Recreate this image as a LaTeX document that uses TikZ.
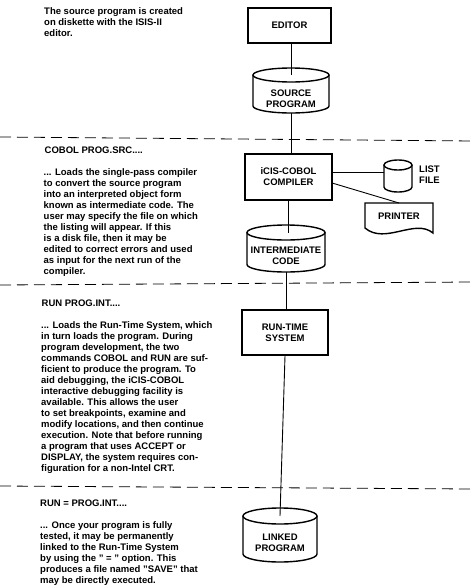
\documentclass[tikz,border=0pt]{standalone}
\usepackage{fontspec}
\setmainfont{Liberation Sans}
\usetikzlibrary{calc}
\newcommand\txtfont{\fontsize{9.5}{11}\selectfont\bfseries}
% #1 node name, #2 half width, #3 top-ellipse centre above node centre,
% #4 side bottom below node centre, #5 ellipse y radius
\newcommand\drawcyl[5]{%
  \coordinate (#1-top) at ($(#1)+(0,#3)$);
  \coordinate (#1-bot) at ($(#1)+(0,-#4-#5)$);
  \draw[cylline] (#1-top) ellipse[x radius=#2, y radius=#5];
  \draw[cylline] ($(#1)+(-#2,#3)$) -- ($(#1)+(-#2,-#4)$)
     arc[start angle=180, end angle=360, x radius=#2, y radius=#5]
     -- ($(#1)+(#2,#3)$);
}
\tikzset{
  box/.style={draw, line width=1.8pt, align=center, inner sep=0pt},
  lbl/.style={align=center, inner sep=0pt},
  txt/.style={align=left, anchor=north west, inner sep=0pt},
  cylline/.style={line width=1.4pt},
  conn/.style={line width=0.9pt},
  divider/.style={line width=0.8pt, dash pattern=on 11pt off 6pt}
}
\begin{document}
\begin{tikzpicture}[x=1pt, y=1pt, every node/.style={font=\txtfont}]
\fill[white] (0,0) rectangle (474,-587);
\useasboundingbox (0,0) rectangle (474,-587);

% dividers
\draw[divider] (0,-137) -- (474,-141);
\draw[divider] (0,-285) -- (474,-282);
\draw[divider] (0,-486) -- (474,-489);

% text column
\node[txt] (t1) at (44,-7.5) {The source program is created\\on diskette with the ISIS-II\\editor.};
\node[txt] (h2) at (44.5,-146.5) {COBOL PROG.SRC....};
\node[txt] (t2) at (43.5,-168.5) {... Loads the single-pass compiler\\to convert the source program\\into an interpreted object form\\known as intermediate code. The\\user may specify the file on which\\the listing will appear. If this\\is a disk file, then it may be\\edited to correct errors and used\\as input for the next run of the\\compiler.};
\node[txt] (h3) at (41.5,-299.5) {RUN PROG.INT....};
\node[txt] (t3) at (41,-321.5) {... Loads the Run-Time System, which\\in turn loads the program. During\\program development, the two\\commands COBOL and RUN are suf-\\ficient to produce the program. To\\aid debugging, the iCIS-COBOL\\interactive debugging facility is\\available. This allows the user\\to set breakpoints, examine and\\modify locations, and then continue\\execution. Note that before running\\a program that uses ACCEPT or\\DISPLAY, the system requires con-\\figuration for a non-Intel CRT.};
\node[txt] (h4) at (40,-499.5) {RUN = PROG.INT....};
\node[txt] (t4) at (40,-521.5) {... Once your program is fully\\tested, it may be permanently\\linked to the Run-Time System\\by using the " = " option. This\\produces a file named "SAVE" that\\may be directly executed.};

% diagram
\node[box, minimum width=83, minimum height=35] (editor) at (289.5,-25.5) {EDITOR};
\node[lbl] (source) at (291,-99) {SOURCE\\PROGRAM};
\drawcyl{source}{38}{24}{7}{7}
\node[box, minimum width=87, minimum height=46] (compiler) at (288.5,-177) {iCIS-COBOL\\COMPILER};
\node[minimum width=28, minimum height=0pt, inner sep=0pt] (listcyl) at (398,-172) {};
\drawcyl{listcyl}{14}{7}{15}{5}
\node[lbl, align=left, anchor=west] (listlbl) at (419,-175) {LIST\\FILE};
\node[lbl] (printer) at (399,-216) {PRINTER};
\coordinate (printer-top) at ($(printer)+(0,13)$);
\draw[cylline] ($(printer)+(-34,13)$) -- ($(printer)+(34,13)$) -- ($(printer)+(34,-17)$)
   .. controls ($(printer)+(16,-2)$) and ($(printer)+(-14,-29)$) .. ($(printer)+(-34,-12)$) -- cycle;
\node[lbl] (inter) at (286,-255.5) {INTERMEDIATE\\CODE};
\drawcyl{inter}{39}{23}{9}{7.5}
\node[box, minimum width=86, minimum height=45] (runtime) at (285,-332.5) {RUN-TIME\\SYSTEM};
\node[lbl] (linked) at (280,-542.5) {LINKED\\PROGRAM};
\drawcyl{linked}{37}{26.5}{11.5}{8}

% connectors
\draw[conn] (editor.south -| source-top) -- (source-top);
\draw[conn] (source-bot) -- (source-bot |- compiler.north);
\draw[conn] (compiler.south) -- (compiler.south |- inter-top);
\draw[conn] (compiler.east |- listcyl.west) -- (listcyl.west);
\draw[conn] (compiler.-8) -- (printer-top);
\draw[conn] (inter-bot) -- (inter-bot |- runtime.north);
\draw[conn] (runtime.south) -- (linked-top);
\end{tikzpicture}
\end{document}
